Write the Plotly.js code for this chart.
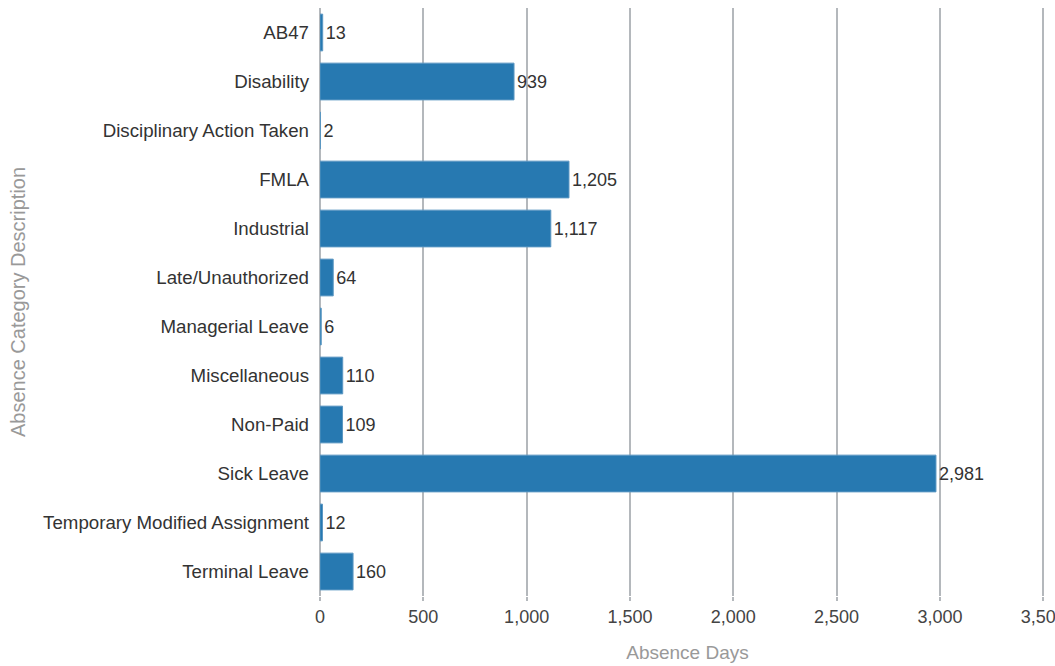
<!DOCTYPE html>
<html>
<head>
<meta charset="utf-8">
<script src="https://cdn.plot.ly/plotly-3.0.1.min.js"></script>
<style>html,body{margin:0;padding:0;background:#fff;overflow:hidden}#chart{width:1055px;height:666px}</style>
</head>
<body>
<div id="chart"></div>
<script>
const categories = ["AB47","Disability","Disciplinary Action Taken","FMLA","Industrial","Late/Unauthorized","Managerial Leave","Miscellaneous","Non-Paid","Sick Leave","Temporary Modified Assignment","Terminal Leave"];
const absenceDays = [13, 939, 2, 1205, 1117, 64, 6, 110, 109, 2981, 12, 160];
const xTickValues = [0, 500, 1000, 1500, 2000, 2500, 3000, 3500];

const grid = "#b4b8bc";
const fam = "Liberation Sans, Arial, sans-serif";
Plotly.newPlot("chart", [{
  type: "bar",
  orientation: "h",
  y: categories,
  x: absenceDays,
  marker: {color: "#2779b1", line: {color: "#5b97c2", width: 1}},
  text: absenceDays.map(v => v.toLocaleString("en-US")),
  textposition: "outside",
  cliponaxis: false,
  textfont: {family: fam, size: 18, color: "#333"},
  hoverinfo: "none"
}], {
  width: 1055, height: 666,
  margin: {l: 320, r: 0, t: 8, b: 70},
  paper_bgcolor: "#fff", plot_bgcolor: "#fff",
  bargap: 0.25,
  showlegend: false,
  font: {family: fam, size: 18, color: "#333"},
  xaxis: {
    range: [0, 3557],
    tickvals: xTickValues,
    tickformat: ",d",
    showgrid: true, gridcolor: grid, gridwidth: 2,
    zeroline: true, zerolinecolor: grid, zerolinewidth: 2,
    ticks: "outside", ticklen: 4, tickcolor: grid, tickwidth: 2,
    ticklabeloverflow: "allow",
    tickfont: {size: 18, color: "#444"},
    title: {text: "Absence Days", font: {size: 19, color: "#999"}, standoff: 20},
    showline: false,
    fixedrange: true
  },
  yaxis: {
    autorange: "reversed",
    type: "category",
    ticks: "", ticklabelstandoff: 10,
    tickfont: {size: 18.7, color: "#333"},
    title: {text: "Absence Category Description", font: {size: 20, color: "#999"}, standoff: 12},
    showgrid: false, showline: false,
    fixedrange: true
  }
}, {displayModeBar: false, staticPlot: true});
</script>
</body>
</html>
